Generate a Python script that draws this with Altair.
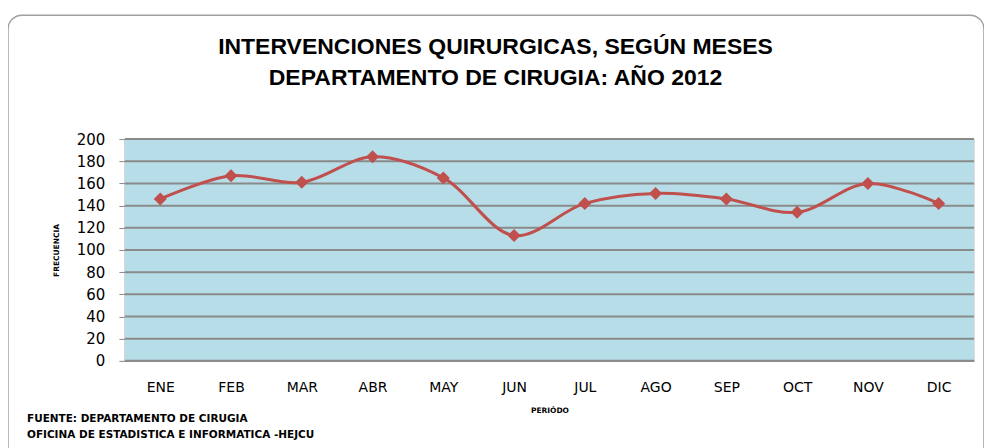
import altair as alt
import pandas as pd

months = ["ENE", "FEB", "MAR", "ABR", "MAY", "JUN", "JUL", "AGO", "SEP", "OCT", "NOV", "DIC"]
values = [146, 167, 161, 184, 165, 113, 142, 151, 146, 134, 160, 142]
title_lines = ["INTERVENCIONES QUIRURGICAS, SEGÚN MESES", "DEPARTAMENTO DE CIRUGIA: AÑO 2012"]
notes = ["FUENTE: DEPARTAMENTO DE CIRUGIA", "OFICINA DE ESTADISTICA E INFORMATICA -HEJCU"]
y_ticks = [0, 20, 40, 60, 80, 100, 120, 140, 160, 180, 200]

df = pd.DataFrame({"mes": months, "valor": values})
grid_df = pd.DataFrame({"valor": y_ticks})
TFONT = "Liberation Sans"
AFONT = "DejaVu Sans"
W, H = 850, 222
PL, PT = 117, 131

x = alt.X("mes:N", sort=months, title="PERIÓDO",
          scale=alt.Scale(paddingInner=0, paddingOuter=0),
          axis=alt.Axis(labelAngle=0, labelFont=AFONT, labelFontSize=14, labelColor="#000",
                        labelPadding=20, ticks=False, domainColor="#999", domainWidth=1.5,
                        titleFont=AFONT, titleFontSize=7.5, titleFontWeight="bold",
                        titleColor="#000", titlePadding=12, grid=False))
yscale = alt.Scale(domain=[0, 200], nice=False)
y = alt.Y("valor:Q", title="FRECUENCIA", scale=yscale,
          axis=alt.Axis(values=y_ticks, labelFont=AFONT, labelFontSize=15, labelColor="#000",
                        labelPadding=14, tickSize=6, tickColor="#888", domainColor="#999",
                        domainWidth=1.5, grid=False,
                        titleFont=AFONT, titleFontSize=7.5, titleFontWeight="bold",
                        titleColor="#000", titlePadding=16))

one = pd.DataFrame({"a": [0]})
bg = alt.Chart(one).mark_rect(fill="#b7dde8", stroke=None).encode(
    x=alt.value(0), x2=alt.value(W), y=alt.value(0), y2=alt.value(H))

grid = alt.Chart(grid_df).mark_rule(color="#8a8a8a", strokeWidth=2).encode(
    y=y, x=alt.value(0), x2=alt.value(W))

line = alt.Chart(df).mark_line(color="#c0504d", strokeWidth=3, interpolate="catmull-rom").encode(x=x, y=y)
pts = alt.Chart(df).mark_point(shape="diamond", filled=True, color="#c0504d", size=170, opacity=1).encode(x=x, y=y)

frame = alt.Chart(one).mark_rect(
    fill=None, stroke="#a0a0a0", strokeWidth=1.5, cornerRadius=14, clip=False
).encode(x=alt.value(-PL), x2=alt.value(W + 10), y=alt.value(-PT + 7), y2=alt.value(H + 110))

def text_layer(txt, xv, yv, size, font, align="left"):
    return alt.Chart(pd.DataFrame({"t": [txt]})).mark_text(
        align=align, baseline="middle", font=font, fontSize=size, fontWeight="bold",
        color="#000", clip=False
    ).encode(text="t:N", x=alt.value(xv), y=alt.value(yv))

t1 = text_layer(title_lines[0], 496 - 8 - PL, 47 - 8 - PT, 23, TFONT, "center")
t2 = text_layer(title_lines[1], 496 - 8 - PL, 78 - 8 - PT, 23, TFONT, "center")
n1 = text_layer(notes[0], -PL + 19, 419 - 8 - PT, 10.5, AFONT)
n2 = text_layer(notes[1], -PL + 19, 435 - 8 - PT, 10.5, AFONT)

chart = alt.layer(frame, bg, grid, line, pts, t1, t2, n1, n2).properties(
    width=W, height=H,
    autosize=alt.AutoSizeParams(type="none"),
    padding={"left": PL, "top": PT, "right": 10, "bottom": 100},
).configure_view(stroke=None).configure(background="white")

chart.save("out.html", embed_options={"renderer": "svg", "actions": False})
